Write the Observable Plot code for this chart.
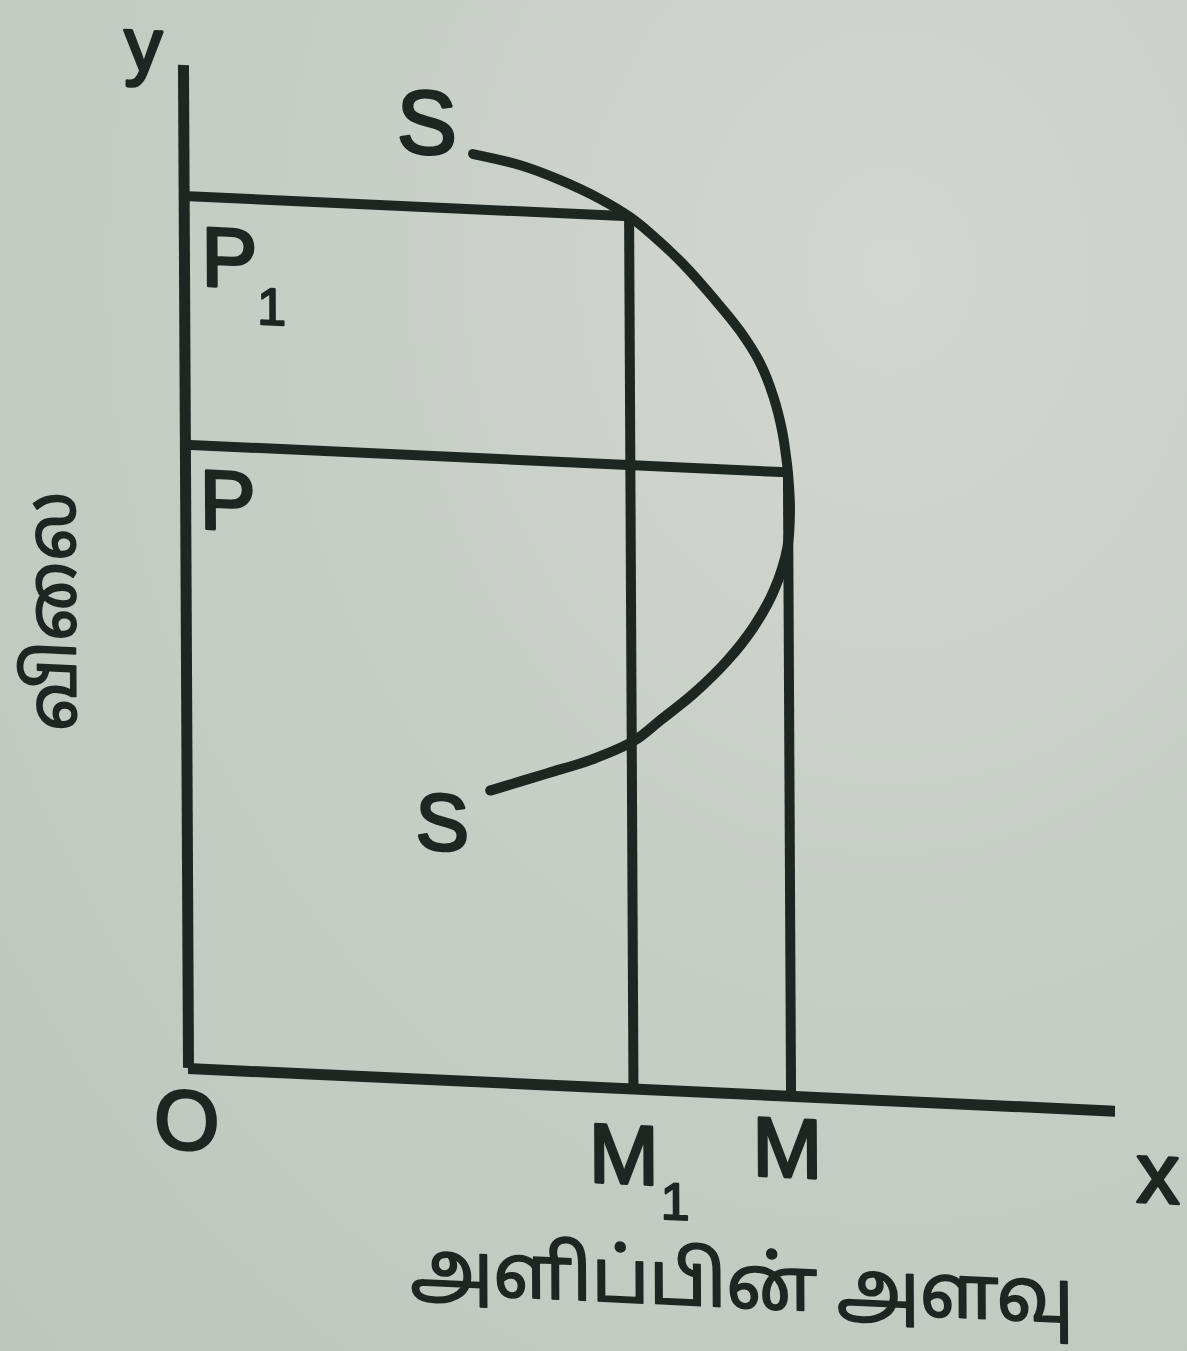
<!DOCTYPE html>
<html>
<head>
<meta charset="utf-8">
<script src="https://cdn.jsdelivr.net/npm/d3@7"></script>
<script src="https://cdn.jsdelivr.net/npm/@observablehq/plot@0.6"></script>
<style>
  html, body { margin: 0; padding: 0; }
  body {
    width: 1187px; height: 1351px; overflow: hidden;
    background: radial-gradient(ellipse at 75% 20%, #d2d8d1 0%, #c7cec6 45%, #bfc6be 100%);
  }
  #chart svg { display: block; overflow: visible; }
</style>
</head>
<body>
<div id="chart"></div>
<script>
// Backward-bending supply curve: quantity supplied (x) against price (y).
const supplyQ = [3.12, 3.63, 4.06, 4.49, 4.80, 5.03, 5.38, 5.70, 5.99, 6.21, 6.35, 6.44, 6.49, 6.50, 6.52, 6.49, 6.34, 6.12, 5.84, 5.47, 5.11, 4.82, 4.35, 3.89, 3.27];
const supplyP = [9.25, 9.16, 9.03, 8.86, 8.70, 8.54, 8.25, 7.93, 7.61, 7.29, 6.96, 6.63, 6.31, 6.22, 5.86, 5.47, 5.03, 4.66, 4.32, 3.97, 3.69, 3.47, 3.26, 3.11, 2.91];

// Two price levels and the quantities supplied at each.
const priceNames = ["P1", "P"];
const priceValues = [8.70, 6.22];
const quantityNames = ["M1", "M"];
const quantityValues = [4.80, 6.50];

// Axis names and titles.
const axisNames = ["O", "x", "y"];
const curveName = "S";
const xTitle = "அளிப்பின் அளவு";
const yTitle = "விலை";

const ink = "#1d2621";
const font = "'Liberation Sans', Arial, sans-serif";
const tamilFont = "'Noto Sans Tamil', 'Lohit Tamil', 'Latha', 'Noto Sans', sans-serif";

const supply = supplyQ.map((q, i) => ({q, p: supplyP[i]}));
const levels = priceNames.map((name, i) => ({price: name, quantity: quantityNames[i], p: priceValues[i], q: quantityValues[i]}));

const letter = {fill: ink, stroke: ink, strokeWidth: 3, fontFamily: font, fontSize: 84, textAnchor: "middle", lineAnchor: "middle"};
const sub = {...letter, fontSize: 52, strokeWidth: 2};

// label offsets (px) from each anchor point
const priceOffsets = [{dx: 45, dy: 62, sdx: 87, sdy: 108}, {dx: 42, dy: 56}];
const quantityOffsets = [{dx: -10, dy: 68, sdx: 41, sdy: 112}, {dx: -4, dy: 54}];

const marks = [
  // axes
  Plot.ruleX([0], {y1: 0, y2: 10, stroke: ink, strokeWidth: 11}),
  Plot.ruleY([0], {x1: 0, x2: 10, stroke: ink, strokeWidth: 11}),
  // guide lines from the axes to the curve
  Plot.ruleY(levels, {y: "p", x1: 0, x2: "q", stroke: ink, strokeWidth: 10}),
  Plot.ruleX(levels, {x: "q", y1: 0, y2: "p", stroke: ink, strokeWidth: 10}),
  // supply curve
  Plot.line(supply, {x: "q", y: "p", curve: "catmull-rom", stroke: ink, strokeWidth: 10, strokeLinecap: "round"}),
  // curve labels at both ends
  Plot.text([supply[0]], {x: "q", y: "p", text: () => curveName, ...letter, fontSize: 90, dx: -46, dy: -27}),
  Plot.text([supply[supply.length - 1]], {x: "q", y: "p", text: () => curveName, ...letter, fontSize: 80, dx: -48, dy: 36}),
  // origin and axis letters
  Plot.text([axisNames[0]], {x: 0, y: 0, text: d => d, ...letter, dx: -2, dy: 54}),
  Plot.text([axisNames[1]], {x: 10, y: 0, text: d => d, ...letter, fontSize: 86, dx: 42, dy: 62}),
  Plot.text([axisNames[2]], {x: 0, y: 10, text: d => d, ...letter, fontSize: 76, dx: -40, dy: -17}),
  // axis titles
  Plot.text([xTitle], {frameAnchor: "bottom", text: d => d, fill: ink, stroke: ink, strokeWidth: 1.6, fontFamily: tamilFont, fontSize: 74, dx: 89, dy: 190, textAnchor: "middle", lineAnchor: "middle"}),
  Plot.text([yTitle], {frameAnchor: "left", text: d => d, fill: ink, stroke: ink, strokeWidth: 1.6, fontFamily: tamilFont, fontSize: 69, rotate: -90, dx: -133, dy: 50, textAnchor: "middle", lineAnchor: "middle"})
];

levels.forEach((d, i) => {
  const o = priceOffsets[i];
  marks.push(Plot.text([d], {x: 0, y: "p", text: v => v.price[0], ...letter, dx: o.dx, dy: o.dy}));
  if (d.price.length > 1) marks.push(Plot.text([d], {x: 0, y: "p", text: v => v.price.slice(1), ...sub, dx: o.sdx, dy: o.sdy}));
  const m = quantityOffsets[i];
  marks.push(Plot.text([d], {x: "q", y: 0, text: v => v.quantity[0], ...letter, dx: m.dx, dy: m.dy}));
  if (d.quantity.length > 1) marks.push(Plot.text([d], {x: "q", y: 0, text: v => v.quantity.slice(1), ...sub, dx: m.sdx, dy: m.sdy}));
});

const chart = Plot.plot({
  width: 1187,
  height: 1351,
  marginLeft: 188,
  marginRight: 72,
  marginTop: 65,
  marginBottom: 283,
  x: {domain: [0, 10], axis: null},
  y: {domain: [0, 10], axis: null},
  style: {background: "transparent", overflow: "visible"},
  marks
});

// the printed figure sits slightly askew on the page
chart.style.transformOrigin = "188px 1068px";
chart.style.transform = "matrix(1, 0.046, 0.005, 1, 0, 0)";
document.getElementById("chart").append(chart);
</script>
</body>
</html>
